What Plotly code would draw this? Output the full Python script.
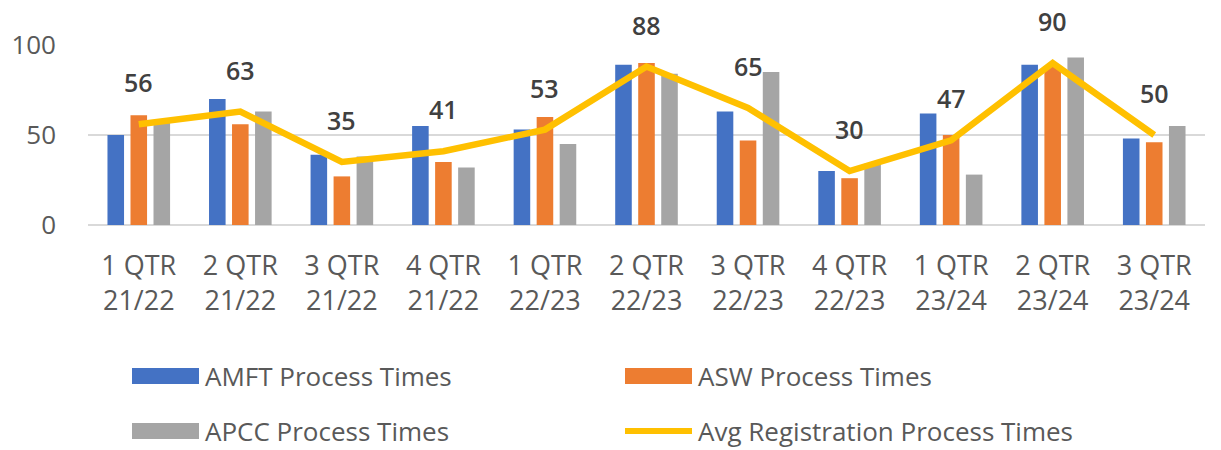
import plotly.graph_objects as go

categories = ["1 QTR<br>21/22", "2 QTR<br>21/22", "3 QTR<br>21/22", "4 QTR<br>21/22",
              "1 QTR<br>22/23", "2 QTR<br>22/23", "3 QTR<br>22/23", "4 QTR<br>22/23",
              "1 QTR<br>23/24", "2 QTR<br>23/24", "3 QTR<br>23/24"]
amft = [50, 70, 39, 55, 53, 89, 63, 30, 62, 89, 48]
asw = [61, 56, 27, 35, 60, 90, 47, 26, 50, 88, 46]
apcc = [57, 63, 38, 32, 45, 84, 85, 34, 28, 93, 55]
avg = [56, 63, 35, 41, 53, 88, 65, 30, 47, 90, 50]

names = ["AMFT Process Times", "ASW Process Times", "APCC Process Times",
         "Avg Registration Process Times"]
colors = ["#4472C4", "#ED7D31", "#A5A5A5", "#FFC000"]

FONT = "Open Sans"
TXT = "#595959"
W, H = 1221, 450
L, R, T, B = 88, 16, 45, 225

fig = go.Figure()
for vals, nm, col in zip([amft, asw, apcc], names[:3], colors[:3]):
    fig.add_trace(go.Bar(x=categories, y=vals, name=nm, marker_color=col,
                         marker_line_width=0, showlegend=False))
fig.add_trace(go.Scatter(x=categories, y=avg, name=names[3], mode="lines",
                         line=dict(color=colors[3], width=6.5), showlegend=False))

for c, v in zip(categories, avg):
    fig.add_annotation(x=c, y=v, text=str(v), showarrow=False, yshift=42,
                       font=dict(family=FONT, size=25, color="#404040", weight=600))

# custom legend (pixel -> paper)
pw, ph = W - L - R, H - T - B
def px(x):
    return (x - L) / pw
def py(y):
    return (H - B - y) / ph

legend_pos = [(132, 376), (625, 376), (132, 431), (625, 431)]
for i, (nm, col) in enumerate(zip(names, colors)):
    x0, yc = legend_pos[i]
    if i < 3:
        fig.add_shape(type="rect", xref="paper", yref="paper",
                      x0=px(x0), x1=px(x0 + 67), y0=py(yc - 8), y1=py(yc + 8),
                      fillcolor=col, line_width=0)
    else:
        fig.add_shape(type="line", xref="paper", yref="paper",
                      x0=px(x0), x1=px(x0 + 67), y0=py(yc), y1=py(yc),
                      line=dict(color=col, width=6))
    fig.add_annotation(xref="paper", yref="paper", x=px(x0 + 72), y=py(yc),
                       xanchor="left", yanchor="middle", text=nm, showarrow=False,
                       borderpad=0,
                       font=dict(family=FONT, size=26, color=TXT))

fig.update_layout(
    width=W, height=H,
    margin=dict(l=L, r=R, t=T, b=B),
    paper_bgcolor="white", plot_bgcolor="white",
    barmode="group", bargap=0.32, bargroupgap=0.28,
    font=dict(family=FONT, size=26, color=TXT),
)
fig.update_yaxes(range=[0, 100], tickvals=[0, 50, 100], showgrid=True,
                 gridcolor="#D9D9D9", gridwidth=2, zeroline=True,
                 zerolinecolor="#D9D9D9", zerolinewidth=2,
                 showline=False, ticklabelstandoff=31,
                 tickfont=dict(family=FONT, size=26, color=TXT))
fig.update_xaxes(showgrid=False, showline=False, ticks="", ticklabelstandoff=22,
                 tickfont=dict(family=FONT, size=27, color=TXT))

fig.write_html("out.html", config={"displayModeBar": False},
               post_script="document.body.style.margin='0';")
